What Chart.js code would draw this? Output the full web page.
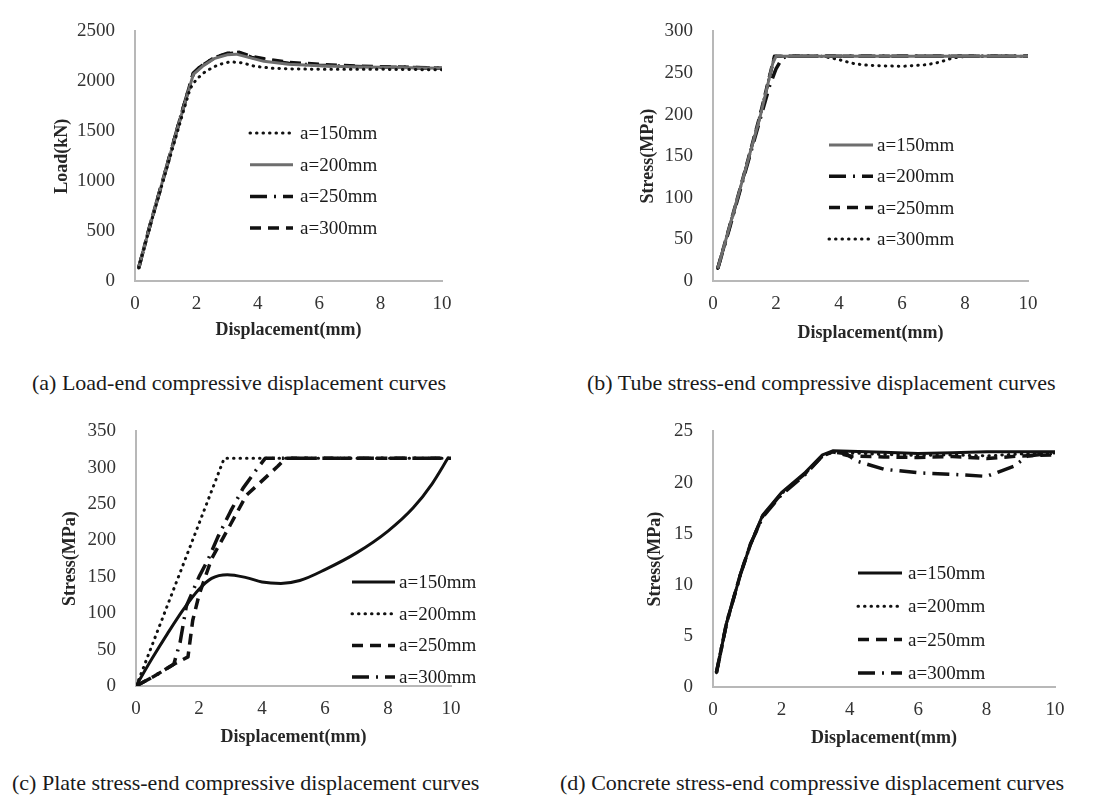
<!DOCTYPE html>
<html>
<head>
<meta charset="utf-8">
<script src="https://cdn.jsdelivr.net/npm/chart.js@4.4.1/dist/chart.umd.min.js"></script>
<style>
  body { margin: 0; background: #fff; width: 1106px; height: 805px; position: relative; overflow: hidden; }
  canvas { position: absolute; }
  .cap { position: absolute; font-family: "Liberation Serif", "Times New Roman", serif; font-size: 22px; line-height: 24px; color: #1a1a1a; white-space: nowrap; }
</style>
</head>
<body>
<canvas id="chA" width="553" height="360" style="left:0px;top:0px"></canvas>
<canvas id="chB" width="553" height="360" style="left:553px;top:0px"></canvas>
<canvas id="chC" width="553" height="365" style="left:0px;top:400px"></canvas>
<canvas id="chD" width="553" height="365" style="left:553px;top:400px"></canvas>

<div class="cap" style="left:32px;top:371px">(a) Load-end compressive displacement curves</div>
<div class="cap" style="left:587px;top:371px">(b) Tube stress-end compressive displacement curves</div>
<div class="cap" style="left:12px;top:771px">(c) Plate stress-end compressive displacement curves</div>
<div class="cap" style="left:560px;top:771px">(d) Concrete stress-end compressive displacement curves</div>

<script>
// duong cong (x = chuyen vi mm, y = gia tri)
const seriesNames = ['a=150mm', 'a=200mm', 'a=250mm', 'a=300mm'];
const xTicks = [0, 2, 4, 6, 8, 10];

// (a) Load - displacement
const loadA150 = [[0.12,130],[0.5,560],[1.0,1090],[1.5,1620],[1.8,1930],[2.0,2020],[2.3,2100],[2.7,2165],[3.1,2196],[3.5,2185],[3.9,2150],[4.5,2130],[5,2125],[6,2120],[7,2120],[8,2120],[9,2118],[10,2115]];
const loadA200 = [[0.12,130],[0.5,570],[1.0,1110],[1.5,1650],[1.9,2070],[2.2,2150],[2.6,2230],[3.0,2265],[3.3,2272],[3.7,2240],[4.2,2200],[5,2170],[6,2155],[7,2145],[8,2140],[9,2135],[10,2130]];
const loadA250 = [[0.12,130],[0.5,570],[1.0,1110],[1.5,1660],[1.9,2080],[2.1,2140],[2.6,2240],[3.0,2275],[3.4,2285],[3.8,2240],[4.3,2210],[5,2180],[6,2160],[7,2150],[8,2140],[9,2140],[10,2130]];
const loadA300 = [[0.12,130],[0.5,570],[1.0,1110],[1.5,1660],[1.9,2080],[2.2,2160],[2.6,2240],[3.0,2280],[3.4,2290],[3.8,2250],[4.3,2220],[5,2190],[6,2170],[7,2155],[8,2145],[9,2140],[10,2130]];

// (b) Tube stress
const tubeB150 = [[0.15,15],[0.5,62],[1.0,130],[1.5,198],[1.9,262],[2.0,270],[3,270],[4,270],[5,270],[6,270],[7,270],[8,270],[9,270],[10,270]];
const tubeB200 = [[0.15,15],[0.5,60],[1.0,128],[1.5,195],[1.8,235],[2.0,255],[2.2,268],[2.35,270],[4,270],[6,270],[8,270],[10,270]];
const tubeB250 = [[0.15,15],[0.5,62],[1.0,130],[1.5,200],[1.95,270],[4,270],[6,270],[8,270],[10,270]];
const tubeB300 = [[0.15,15],[0.5,62],[1.0,130],[1.5,200],[1.95,270],[3.5,270],[4.0,266],[4.5,261],[5,259],[6,258],[6.8,260],[7.2,263],[7.6,268],[8,270],[10,270]];

// (c) Plate stress
const plateC150 = [[0,0],[0.5,37],[1,72],[1.5,105],[2,133],[2.4,148],[2.9,153],[3.5,149],[4,143],[4.6,141],[5.2,145],[6,160],[7,183],[8,213],[8.8,245],[9.4,278],[9.9,313]];
const plateC200 = [[0,0],[0.1,10],[2.8,313],[10,313]];
const plateC250 = [[0,0],[0.6,14],[1.2,30],[1.65,40],[1.8,90],[2.0,125],[2.4,175],[3.0,222],[3.5,262],[4.0,282],[4.5,302],[4.75,313],[10,313]];
const plateC300 = [[0,0],[0.6,14],[1.2,30],[1.4,60],[1.6,110],[1.8,130],[2.0,150],[2.3,175],[2.6,205],[3.0,240],[3.4,272],[3.8,296],[4.1,313],[10,313]];

// (d) Concrete stress
const concD150 = [[0.1,1.4],[0.4,6.3],[0.8,11],[1.1,14],[1.45,16.8],[2,19],[2.7,21],[3.2,22.7],[3.5,23.1],[4,23.05],[5,22.95],[6,22.85],[7,22.9],[8,23],[9,23],[10,23]];
const concD200 = [[0.1,1.4],[0.4,6.3],[0.8,11],[1.1,14],[1.45,16.7],[2,18.9],[2.7,20.9],[3.2,22.6],[3.5,23.0],[4,22.9],[5,22.75],[6,22.65],[7,22.7],[8,22.6],[9,22.8],[10,22.9]];
const concD250 = [[0.1,1.4],[0.4,6.3],[0.8,11],[1.1,14],[1.45,16.7],[2,18.9],[2.7,20.9],[3.2,22.6],[3.5,23.0],[4,22.6],[5,22.5],[6,22.45],[7,22.55],[8,22.35],[9,22.6],[10,22.7]];
const concD300 = [[0.1,1.4],[0.4,6.3],[0.8,11],[1.1,14],[1.45,16.6],[2,18.8],[2.7,20.8],[3.2,22.6],[3.5,23.0],[3.9,22.8],[4.2,22.1],[5,21.3],[6,20.95],[7,20.8],[8,20.6],[8.4,21.1],[8.8,21.6],[9.2,22.6],[10,22.9]];

const SERIF = '"Liberation Serif", "Times New Roman", serif';
const TICK_FONT = { family: SERIF, size: 19 };
const TITLE_FONT = { family: SERIF, size: 18, weight: 'bold', lineHeight: 1.2 };

// kieu duong
const solid = { borderColor: '#111', borderWidth: 3, borderDash: [] };
const solidGray = { borderColor: '#6e6e6e', borderWidth: 3, borderDash: [] };
const dotted = { borderColor: '#111', borderWidth: 3, borderDash: [0.5, 6], borderCapStyle: 'round' };
const dashed = { borderColor: '#111', borderWidth: 3.5, borderDash: [11, 7] };
const dashDot = { borderColor: '#111', borderWidth: 3.5, borderDash: [17, 7, 2, 7] };

// legend ve ben trong vung ve
const insideLegend = {
    id: 'insideLegend',
    afterDraw(chart, args, opts) {
        const ctx = chart.ctx;
        chart.data.datasets.forEach((ds, i) => {
            const y = opts.top + i * opts.step;
            ctx.save();
            ctx.strokeStyle = ds.borderColor;
            ctx.lineWidth = ds.borderWidth;
            ctx.lineCap = ds.borderCapStyle || 'butt';
            ctx.setLineDash(ds.borderDash || []);
            ctx.beginPath();
            ctx.moveTo(opts.x, y);
            ctx.lineTo(opts.x + opts.len, y);
            ctx.stroke();
            ctx.setLineDash([]);
            ctx.fillStyle = '#1a1a1a';
            ctx.font = '19px ' + SERIF;
            ctx.textBaseline = 'middle';
            ctx.fillText(ds.label, opts.textX, y + 1);
            ctx.restore();
        });
    }
};

function toPoints(arr) {
    return arr.map(p => ({ x: p[0], y: p[1] }));
}

// g: toa do trang (px) cua vung ve, tieu de truc
function makePanel(id, cvLeft, cvTop, yTitle, yMax, yStep, data, styles, g, leg, smooth) {
    const cv = document.getElementById(id);
    const lh = TITLE_FONT.size * TITLE_FONT.lineHeight;
    const L = g.L - cvLeft, R = g.R - cvLeft, T = g.T - cvTop, B = g.B - cvTop;
    const padLeft = g.yTitleX - cvLeft - lh / 2;
    const yW = L - padLeft;
    const xH = g.xTitleY - g.B + lh / 2;
    const padBottom = cv.height - B - xH;

    const datasets = data.map((arr, i) => Object.assign({
        label: seriesNames[i],
        data: toPoints(arr),
        pointRadius: 0,
        fill: false,
        tension: 0,
        borderJoinStyle: 'round'
    }, styles[i], smooth && smooth[i] ? { cubicInterpolationMode: 'monotone' } : {}));

    return new Chart(cv, {
        type: 'line',
        data: { datasets: datasets },
        plugins: [insideLegend],
        options: {
            responsive: false,
            animation: false,
            layout: { padding: { left: padLeft, right: cv.width - R, top: T, bottom: padBottom } },
            plugins: {
                legend: { display: false },
                tooltip: { enabled: false },
                insideLegend: {
                    x: leg.x - cvLeft, len: leg.len, textX: leg.textX - cvLeft,
                    top: leg.top - cvTop, step: leg.step
                }
            },
            scales: {
                x: {
                    type: 'linear', min: 0, max: 10,
                    afterBuildTicks: s => { s.ticks = xTicks.map(v => ({ value: v })); },
                    afterFit: s => { s.height = xH; },
                    grid: { display: false, drawTicks: false },
                    border: { display: true, color: '#b8b8b8', width: 2 },
                    ticks: { font: TICK_FONT, color: '#333', padding: 12, maxRotation: 0, callback: v => String(v) },
                    title: { display: true, text: 'Displacement(mm)', font: TITLE_FONT, color: '#262626', padding: 0 }
                },
                y: {
                    type: 'linear', min: 0, max: yMax,
                    afterFit: s => { s.width = yW; },
                    grid: { display: false, drawTicks: false },
                    border: { display: true, color: '#b8b8b8', width: 2 },
                    ticks: { stepSize: yStep, font: TICK_FONT, color: '#333', padding: 20, callback: v => String(v) },
                    title: { display: true, text: yTitle, font: TITLE_FONT, color: '#262626', padding: 0 }
                }
            }
        }
    });
}

makePanel('chA', 0, 0, 'Load(kN)', 2500, 500,
    [loadA150, loadA200, loadA250, loadA300],
    [dotted, solidGray, dashDot, dashed],
    { L: 135, R: 442, T: 18, B: 281, yTitleX: 62, xTitleY: 330 },
    { x: 250, len: 43, textX: 300, top: 133, step: 31.7 });

makePanel('chB', 553, 0, 'Stress(MPa)', 300, 50,
    [tubeB150, tubeB200, tubeB250, tubeB300],
    [solidGray, dashDot, dashed, dotted],
    { L: 713, R: 1028, T: 18, B: 281, yTitleX: 648, xTitleY: 333 },
    { x: 829, len: 44, textX: 877, top: 145, step: 31.3 });

makePanel('chC', 0, 400, 'Stress(MPa)', 350, 50,
    [plateC150, plateC200, plateC250, plateC300],
    [solid, dotted, dashed, dashDot],
    { L: 136, R: 451, T: 425, B: 686, yTitleX: 70, xTitleY: 737 },
    { x: 352, len: 43, textX: 399, top: 582, step: 31.7 },
    [true, false, false, false]);

makePanel('chD', 553, 400, 'Stress(MPa)', 25, 5,
    [concD150, concD200, concD250, concD300],
    [solid, dotted, dashed, dashDot],
    { L: 713, R: 1055, T: 430, B: 687, yTitleX: 655, xTitleY: 738 },
    { x: 858, len: 44, textX: 908, top: 573, step: 33.3 });
</script>
</body>
</html>
